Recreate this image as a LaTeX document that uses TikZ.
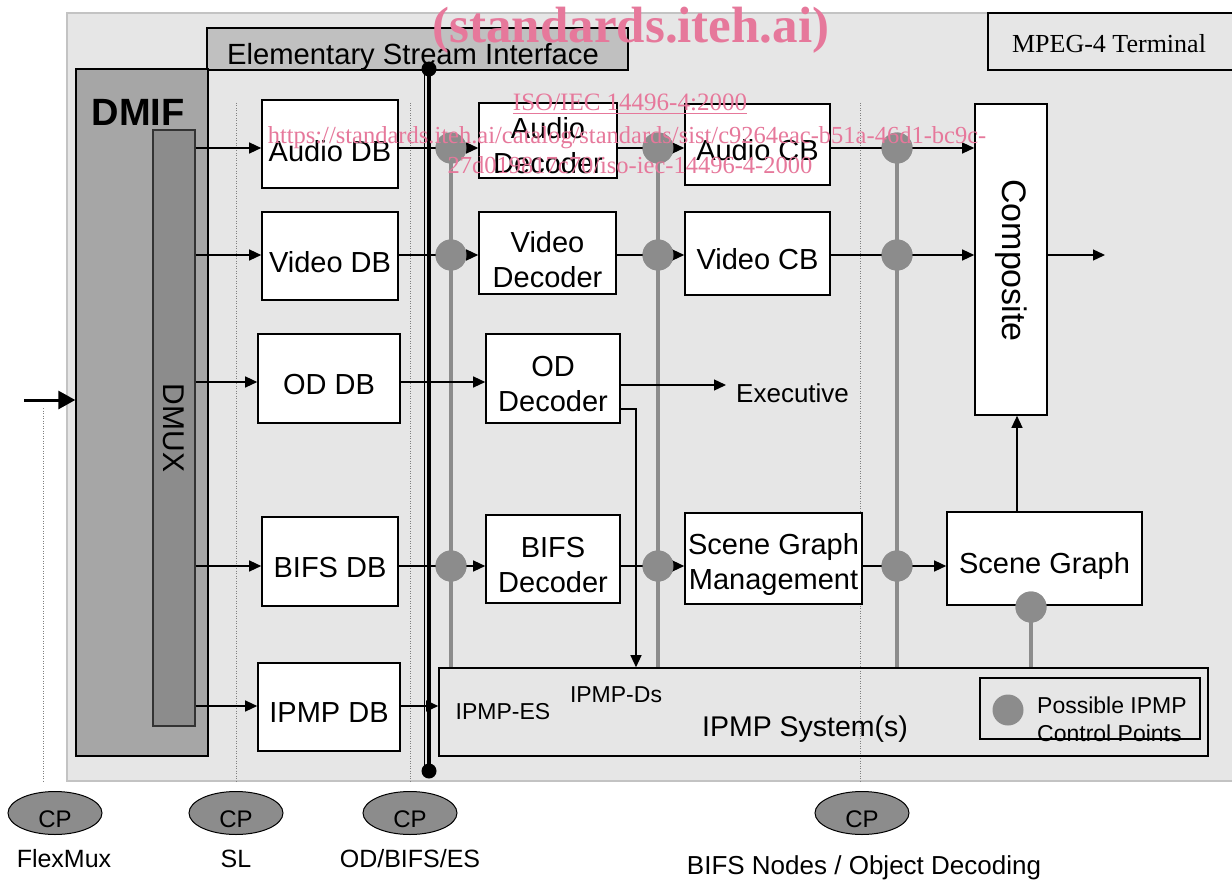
\documentclass[tikz,border=0pt]{standalone}
\usepackage{fontspec}
\setmainfont{Liberation Sans}
\newfontfamily\tnr{Liberation Serif}
\usetikzlibrary{arrows.meta,shapes.geometric,calc}
\definecolor{bgfill}{RGB}{230,230,230}
\definecolor{bgline}{RGB}{195,195,195}
\definecolor{esifill}{RGB}{192,192,192}
\definecolor{dmiffill}{RGB}{166,166,166}
\definecolor{dmuxfill}{RGB}{140,140,140}
\definecolor{ctrl}{RGB}{140,140,140}
\definecolor{wm}{RGB}{230,120,155}
\tikzset{
  box/.style={draw=black, line width=1.6pt, fill=white, inner sep=0pt},
  btxt/.style={align=center, inner sep=0pt, font=\fontsize{29}{35}\selectfont},
  arr/.style={line width=1.3pt, -{Triangle[length=12pt,width=11pt]}},
  ctl/.style={draw=ctrl, line width=4pt},
  cdot/.style={circle, fill=ctrl, minimum size=31pt, inner sep=0pt},
  edot/.style={circle, fill=black, minimum size=15pt, inner sep=0pt},
  dotline/.style={draw=gray, line width=1pt, dash pattern=on 1pt off 1.5pt},
  cpell/.style={ellipse, draw=black, line width=1pt, fill=dmuxfill, minimum width=94pt, minimum height=43pt, inner sep=0pt},
  lbl/.style={anchor=base, inner sep=0pt},
  wmk/.style={anchor=base, inner sep=0pt, text=wm}
}
\begin{document}
\begin{tikzpicture}[x=1pt,y=-1pt]
\useasboundingbox (0,0) rectangle (1232,880);
% terminal background
\fill[bgfill] (67,13) rectangle (1240,781);
\draw[bgline, line width=2pt] (1240,13) -- (67,13) -- (67,781) -- (1240,781);
% MPEG-4 terminal
\draw[line width=1.6pt] (1240,13) -- (988,13) -- (988,70) -- (1240,70);
\node[lbl, font=\tnr\fontsize{26}{30}\selectfont] (term) at (1109,53) {MPEG-4 Terminal};
% Elementary stream interface
\node[draw=black, line width=1.6pt, fill=esifill, minimum width=421pt, minimum height=42pt, inner sep=0pt] (esi) at (417.5,49) {};
\node[lbl, font=\fontsize{29.2}{34}\selectfont] (esit) at (413,65) {Elementary Stream Interface};
% DMIF
\node[draw=black, line width=1.4pt, fill=dmiffill, minimum width=132pt, minimum height=687pt, inner sep=0pt] (dmif) at (142,412.5) {};
\node[lbl, font=\bfseries\fontsize{38}{44}\selectfont] (dmift) at (138,126) {DMIF};
\node[draw=black!80, line width=1.2pt, fill=dmuxfill, minimum width=42pt, minimum height=596pt, inner sep=0pt] (dmux) at (174,428) {};
\node[rotate=-90, font=\fontsize{30}{34}\selectfont] (dmuxt) at (dmux.center) {DMUX};
% dotted layer lines
\coordinate (fmT) at (43,408); \coordinate (fmB) at (43,782);
\coordinate (slT) at (236,103); \coordinate (slB) at (236,782);
\coordinate (esT) at (410,103); \coordinate (esB) at (410,782);
\coordinate (bnT) at (860,103); \coordinate (bnB) at (860,782);
\draw[dotline] (fmT) -- (fmB);
\draw[dotline] (slT) -- (slB);
\draw[dotline] (esT) -- (esB);
\draw[dotline] (bnT) -- (bnB);
% rows
\coordinate (rowA) at (0,148);
\coordinate (rowV) at (0,255);
\coordinate (rowO) at (0,382);
\coordinate (rowB) at (0,566);
\coordinate (rowI) at (0,706);
% boxes
\node[box, minimum width=136pt, minimum height=88pt] (adb) at (330,144) {};
\node[box, minimum width=136pt, minimum height=88pt] (vdb) at (330,256) {};
\node[box, minimum width=142pt, minimum height=89pt] (oddb) at (329,378.5) {};
\node[box, minimum width=136pt, minimum height=89pt] (bdb) at (330,561.5) {};
\node[box, minimum width=142pt, minimum height=88pt] (idb) at (329,707) {};
\node[box, minimum width=138pt, minimum height=75pt] (adec) at (548,140.5) {};
\node[box, minimum width=137pt, minimum height=82pt] (vdec) at (547.5,253) {};
\node[box, minimum width=134pt, minimum height=89pt] (oddec) at (553,378.5) {};
\node[box, minimum width=134pt, minimum height=88pt] (bdec) at (553,559) {};
\node[box, minimum width=145pt, minimum height=81pt] (acb) at (757.5,144.5) {};
\node[box, minimum width=145pt, minimum height=83pt] (vcb) at (757.5,253.5) {};
\node[box, minimum width=177pt, minimum height=91pt] (sgm) at (773.5,558.5) {};
\node[box, minimum width=72pt, minimum height=311pt] (comp) at (1011,259.5) {};
\node[box, minimum width=195pt, minimum height=93pt] (sg) at (1044.5,558.5) {};
\node[draw=black, line width=1.6pt, minimum width=769pt, minimum height=88pt, inner sep=0pt] (ipmp) at (823.5,712) {};
% box texts
\node[btxt] (adbT) at ([yshift=-7pt]adb.center) {Audio DB};
\node[btxt] (vdbT) at ([yshift=-6pt]vdb.center) {Video DB};
\node[btxt] (oddbT) at ([yshift=-6pt]oddb.center) {OD DB};
\node[btxt] (bdbT) at ([yshift=-6pt]bdb.center) {BIFS DB};
\node[btxt] (idbT) at ([yshift=-6pt]idb.center) {IPMP DB};
\node[btxt] (adecT) at ([yshift=-5pt]adec.center) {Audio\\Decoder};
\node[btxt] (vdecT) at ([yshift=-7pt]vdec.center) {Video\\Decoder};
\node[btxt] (oddecT) at ([yshift=-6pt]oddec.center) {OD\\Decoder};
\node[btxt] (bdecT) at ([yshift=-6pt]bdec.center) {BIFS\\Decoder};
\node[btxt] (acbT) at ([yshift=-6pt]acb.center) {Audio CB};
\node[btxt] (vcbT) at ([yshift=-6pt]vcb.center) {Video CB};
\node[btxt] (sgmT) at ([yshift=-6pt]sgm.center) {Scene Graph\\Management};
\node[rotate=-90, font=\fontsize{34}{40}\selectfont] (compT) at ([yshift=-1pt]comp.center) {Composite};
\node[btxt] (sgT) at ([yshift=-7pt]sg.center) {Scene Graph};
% ESI bus line
\node[edot] (et) at (429,69) {};
\node[edot] (eb) at (429,771) {};
\draw[line width=4.5pt] (et.center) -- (eb.center);
\draw[line width=1pt] ([xshift=-4.5pt]et.center) -- ([xshift=-4.5pt]eb.center);
% control points
\node[cdot] (d1a) at (451,148) {};
\node[cdot] (d1v) at (451,255) {};
\node[cdot] (d1b) at (451,566) {};
\node[cdot] (d2a) at (658,148) {};
\node[cdot] (d2v) at (658,255) {};
\node[cdot] (d2b) at (658,566) {};
\node[cdot] (d3a) at (897,148) {};
\node[cdot] (d3v) at (897,255) {};
\node[cdot] (d3b) at (897,566) {};
\node[cdot] (d4) at (1031,607) {};
\draw[ctl] (d1a.center) -- (ipmp.north -| d1a);
\draw[ctl] (d2a.center) -- (ipmp.north -| d2a);
\draw[ctl] (d3a.center) -- (ipmp.north -| d3a);
\draw[ctl] (d4.center) -- (ipmp.north -| d4);
% arrows
\coordinate (inS) at (24,400);
\draw[line width=3pt, -{Triangle[length=17pt,width=18pt]}] (inS) -- (dmif.west |- inS);
\draw[arr] (dmux.east |- rowA) -- (adb.west |- rowA);
\draw[arr] (dmux.east |- rowV) -- (vdb.west |- rowV);
\draw[arr] (dmux.east |- rowO) -- (oddb.west |- rowO);
\draw[arr] (dmux.east |- rowB) -- (bdb.west |- rowB);
\draw[arr] (dmux.east |- rowI) -- (idb.west |- rowI);
\draw[arr] (adb.east |- rowA) -- (adec.west |- rowA);
\draw[arr] (vdb.east |- rowV) -- (vdec.west |- rowV);
\draw[arr] (oddb.east |- rowO) -- (oddec.west |- rowO);
\draw[arr] (bdb.east |- rowB) -- (bdec.west |- rowB);
\draw[arr] (idb.east |- rowI) -- (ipmp.west |- rowI);
\draw[arr] (adec.east |- rowA) -- (acb.west |- rowA);
\draw[arr] (vdec.east |- rowV) -- (vcb.west |- rowV);
\draw[arr] (bdec.east |- rowB) -- (sgm.west |- rowB);
\draw[arr] (acb.east |- rowA) -- (comp.west |- rowA);
\draw[arr] (vcb.east |- rowV) -- (comp.west |- rowV);
\draw[arr] (sgm.east |- rowB) -- (sg.west |- rowB);
\coordinate (outE) at (1105,255);
\draw[arr] (comp.east |- outE) -- (outE);
\coordinate (sgx) at (1017,0);
\draw[arr] (sg.north -| sgx) -- (comp.south -| sgx);
\coordinate (exeA) at (726,385);
\draw[arr] (oddec.east |- exeA) -- (exeA);
\coordinate (odturn) at (636,409);
\draw[arr] (oddec.east |- odturn) -- (odturn) -- (ipmp.north -| odturn);
% redraw dots on top
\foreach \d in {d1a,d1v,d1b,d2a,d2v,d2b,d3a,d3v,d3b,d4} {\fill[ctrl] (\d) circle (15.5pt);}
% texts
\node[lbl, font=\fontsize{26}{30}\selectfont, anchor=base west] (exec) at (736,402) {Executive};
\node[lbl, font=\fontsize{23}{27}\selectfont] (ipes) at (503,719) {IPMP-ES};
\node[lbl, font=\fontsize{23}{27}\selectfont] (ipds) at (616,702) {IPMP-Ds};
\node[lbl, font=\fontsize{28.5}{34}\selectfont] (ipsys) at (805,736) {IPMP System(s)};
% legend
\node[cdot] (ld) at (1008,710) {};
\node[lbl, anchor=base west, font=\fontsize{23}{27}\selectfont] (lt1) at (1037,713) {Possible IPMP};
\node[lbl, anchor=base west, font=\fontsize{23}{27}\selectfont] (lt2) at (1037,741) {Control Points};
\node[draw=black, line width=1.4pt, minimum width=220pt, minimum height=61pt, inner sep=0pt] (leg) at (1090,708.5) {};
% CP ellipses
\node[cpell] (cp1) at (55,813) {};
\node[cpell] (cp2) at (236,813) {};
\node[cpell] (cp3) at (410,813) {};
\node[cpell] (cp4) at (862,813) {};
\foreach \c in {cp1,cp2,cp3,cp4} {\node[lbl, font=\fontsize{24}{28}\selectfont] at ([yshift=-14pt]\c.center) {CP};}
\node[lbl, font=\fontsize{25}{30}\selectfont] (l1) at (64,867) {FlexMux};
\node[lbl, font=\fontsize{25}{30}\selectfont] (l2) at (236,867) {SL};
\node[lbl, font=\fontsize{25}{30}\selectfont] (l3) at (410,867) {OD/BIFS/ES};
\node[lbl, font=\fontsize{26}{30}\selectfont] (l4) at (864,874) {BIFS Nodes / Object Decoding};
% watermark
\node[wmk, font=\tnr\bfseries\fontsize{51}{60}\selectfont] (w1) at (631,43) {(standards.iteh.ai)};
\node[wmk, font=\tnr\fontsize{25}{30}\selectfont] (w2) at (630,111) {\underline{ISO/IEC 14496-4:2000}};
\node[wmk, font=\tnr\fontsize{24.5}{30}\selectfont] (w3) at (627,144) {https://standards.iteh.ai/catalog/standards/sist/c9264eac-b51a-46d1-bc9c-};
\node[wmk, font=\tnr\fontsize{24.5}{30}\selectfont] (w4) at (630,174) {27d019817c70/iso-iec-14496-4-2000};
\end{tikzpicture}
\end{document}
